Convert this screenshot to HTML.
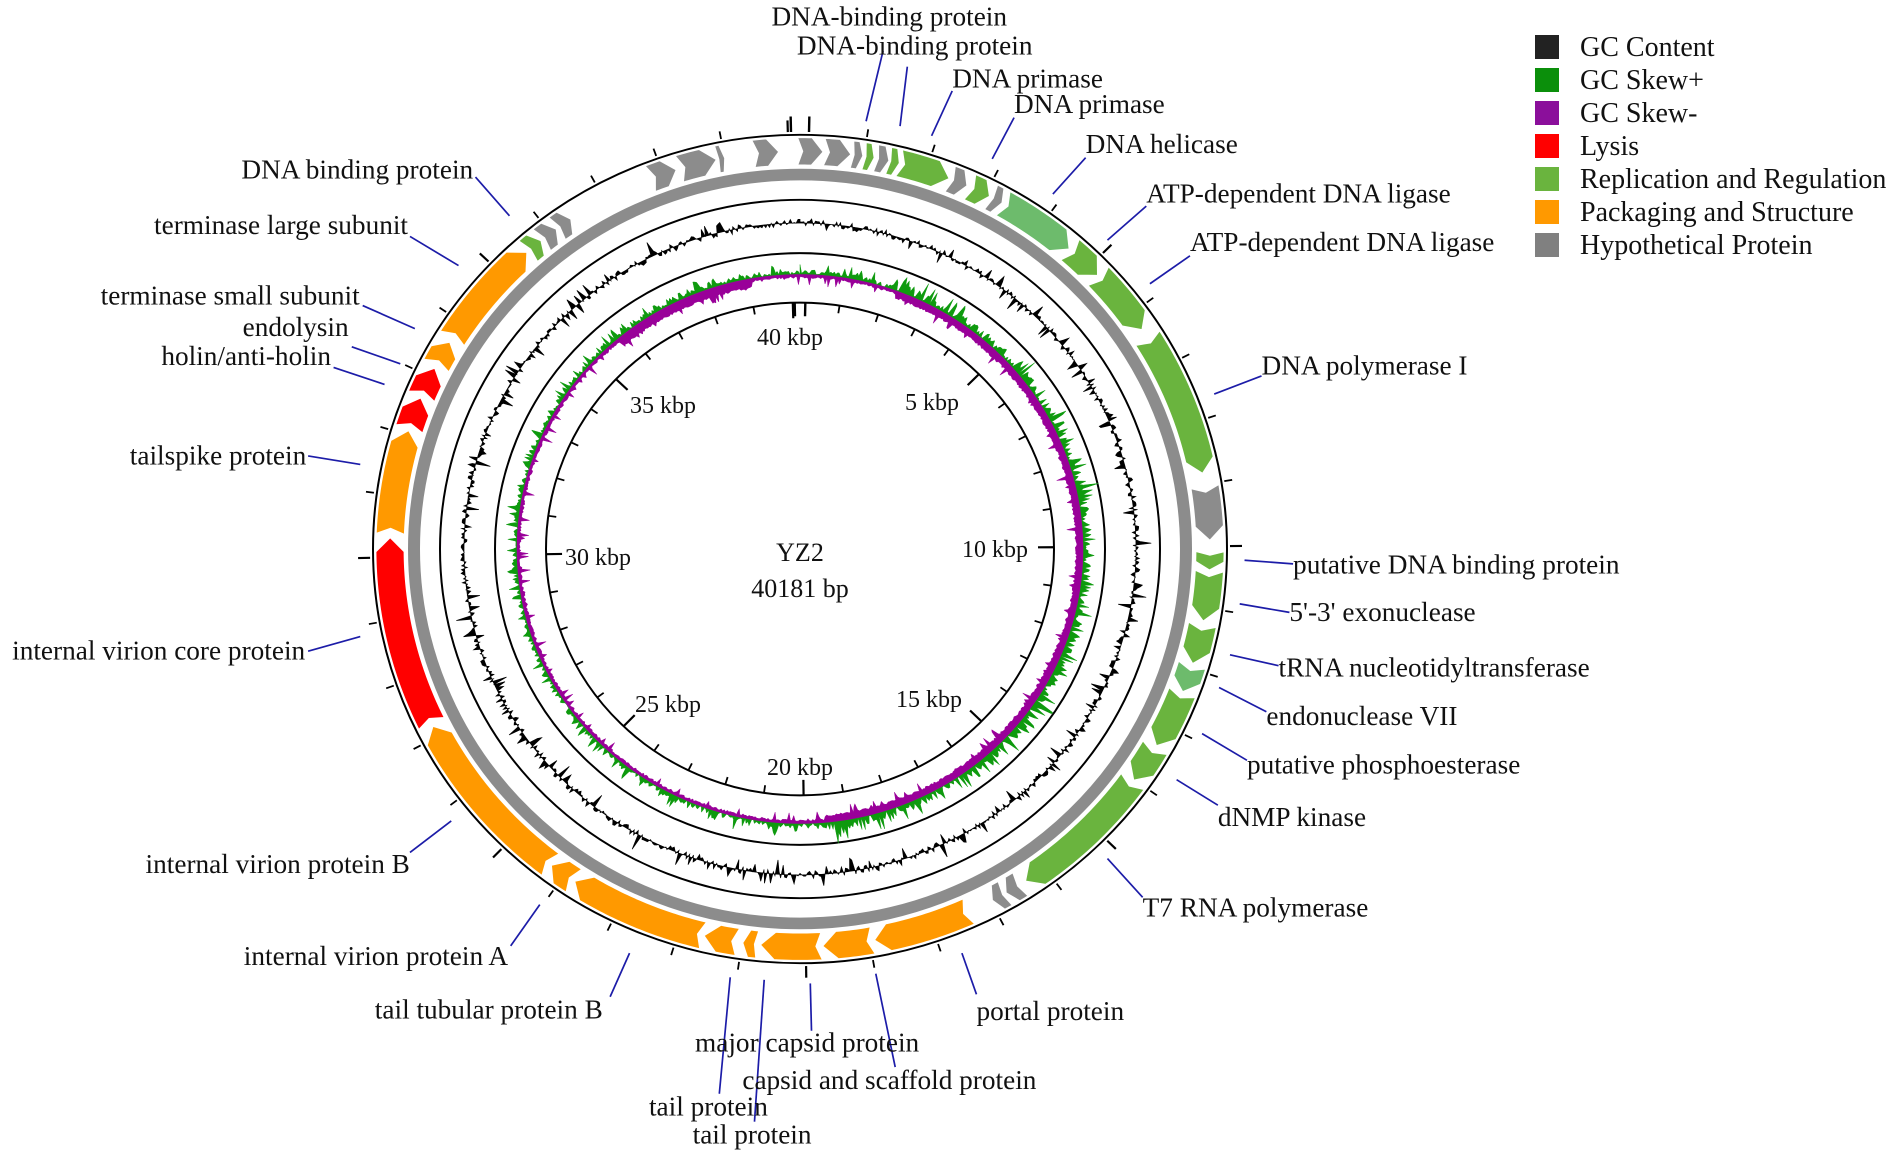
<!DOCTYPE html>
<html><head><meta charset="utf-8"><style>
html,body{margin:0;padding:0;background:#fff;width:1902px;height:1158px;overflow:hidden}
svg{display:block}
text{font-family:"Liberation Serif",serif;fill:#111}
</style></head><body>
<svg id="s" width="1902" height="1158" viewBox="0 0 1902 1158" xmlns="http://www.w3.org/2000/svg">
<g id="ring" transform="translate(800,549) scale(1,0.97)"></g>
<g font-size="24" text-anchor="middle">
<text x="790" y="345">40 kbp</text>
<text x="932" y="410">5 kbp</text>
<text x="663" y="413">35 kbp</text>
<text x="995" y="557">10 kbp</text>
<text x="598" y="565">30 kbp</text>
<text x="929" y="707">15 kbp</text>
<text x="668" y="712">25 kbp</text>
<text x="800" y="775">20 kbp</text>
<text x="800" y="561" font-size="26">YZ2</text>
<text x="800" y="597" font-size="26">40181 bp</text>
</g>
<g id="legend" font-size="28">
<rect x="1535" y="35" width="24" height="24" fill="#222"/><text x="1580" y="56">GC Content</text>
<rect x="1535" y="68" width="24" height="24" fill="#0b8f0b"/><text x="1580" y="89">GC Skew+</text>
<rect x="1535" y="101" width="24" height="24" fill="#8b0f9b"/><text x="1580" y="122">GC Skew-</text>
<rect x="1535" y="134" width="24" height="24" fill="#ff0000"/><text x="1580" y="155">Lysis</text>
<rect x="1535" y="167" width="24" height="24" fill="#6ab43e"/><text x="1580" y="188">Replication and Regulation</text>
<rect x="1535" y="200" width="24" height="24" fill="#ff9900"/><text x="1580" y="221">Packaging and Structure</text>
<rect x="1535" y="233" width="24" height="24" fill="#808080"/><text x="1580" y="254">Hypothetical Protein</text>
</g>
<g transform="scale(1.2130,1.2126)" font-size="22.5">
<g stroke="#1c1ca8" stroke-width="1.4" fill="none">
<line x1="728" y1="42" x2="714" y2="100"/>
<line x1="748" y1="55" x2="742" y2="104"/>
<line x1="785" y1="75" x2="768" y2="112"/>
<line x1="836" y1="97" x2="818" y2="131"/>
<line x1="895" y1="130" x2="868" y2="160"/>
<line x1="945" y1="170" x2="913" y2="198"/>
<line x1="981" y1="211" x2="948" y2="234"/>
<line x1="1040" y1="310" x2="1001" y2="325"/>
<line x1="1066" y1="465" x2="1026" y2="462"/>
<line x1="1063" y1="505" x2="1022" y2="498"/>
<line x1="1054" y1="549" x2="1014" y2="540"/>
<line x1="1044" y1="587" x2="1005" y2="567"/>
<line x1="1028" y1="627" x2="991" y2="605"/>
<line x1="1004" y1="664" x2="970" y2="643"/>
<line x1="942" y1="740" x2="913" y2="708"/>
<line x1="805" y1="820" x2="793" y2="786"/>
<line x1="738" y1="880" x2="722" y2="803"/>
<line x1="669" y1="850" x2="668" y2="811"/>
<line x1="593" y1="902" x2="602" y2="806"/>
<line x1="622" y1="925" x2="630" y2="808"/>
<line x1="503" y1="822" x2="519" y2="786"/>
<line x1="421" y1="780" x2="445" y2="746"/>
<line x1="338" y1="703" x2="372" y2="677"/>
<line x1="254" y1="537" x2="297" y2="525"/>
<line x1="254" y1="376" x2="297" y2="383"/>
<line x1="275" y1="303" x2="317" y2="317"/>
<line x1="290" y1="286" x2="330" y2="300"/>
<line x1="299" y1="252" x2="342" y2="271"/>
<line x1="338" y1="195" x2="378" y2="219"/>
<line x1="392" y1="146" x2="420" y2="178"/>
</g>
<text x="636" y="21">DNA-binding protein</text>
<text x="657" y="45">DNA-binding protein</text>
<text x="785" y="72">DNA primase</text>
<text x="836" y="93">DNA primase</text>
<text x="895" y="126">DNA helicase</text>
<text x="945" y="167">ATP-dependent DNA ligase</text>
<text x="981" y="207">ATP-dependent DNA ligase</text>
<text x="1040" y="309">DNA polymerase I</text>
<text x="1066" y="473">putative DNA binding protein</text>
<text x="1063" y="512">5'-3' exonuclease</text>
<text x="1054" y="558">tRNA nucleotidyltransferase</text>
<text x="1044" y="598">endonuclease VII</text>
<text x="1028" y="638">putative phosphoesterase</text>
<text x="1004" y="681">dNMP kinase</text>
<text x="942" y="756">T7 RNA polymerase</text>
<text x="805" y="841">portal protein</text>
<text x="612" y="898">capsid and scaffold protein</text>
<text x="573" y="867">major capsid protein</text>
<text x="535" y="920">tail protein</text>
<text x="571" y="943">tail protein</text>
<text x="309" y="840">tail tubular protein B</text>
<text x="201" y="796">internal virion protein A</text>
<text x="120" y="720">internal virion protein B</text>
<text x="10" y="544">internal virion core protein</text>
<text x="107" y="383">tailspike protein</text>
<text x="133" y="301">holin/anti-holin</text>
<text x="200" y="277">endolysin</text>
<text x="83" y="251">terminase small subunit</text>
<text x="127" y="193">terminase large subunit</text>
<text x="199" y="147">DNA binding protein</text>
</g>
</svg>
<script>
(function(){
var NS="http://www.w3.org/2000/svg",g=document.getElementById("ring");
function el(t,a){var e=document.createElementNS(NS,t);for(var k in a)e.setAttribute(k,a[k]);g.appendChild(e);return e;}
function P(r,a){var d=a*Math.PI/180;return (r*Math.sin(d)).toFixed(2)+","+(-r*Math.cos(d)).toFixed(2);}
function line(r1,r2,a,w){var p1=P(r1,a).split(","),p2=P(r2,a).split(",");el("line",{x1:p1[0],y1:p1[1],x2:p2[0],y2:p2[1],stroke:"#000","stroke-width":w});}
var seed=12345;function rnd(){seed=(seed*1103515245+12345)%2147483648;return seed/2147483648;}
el("circle",{cx:0,cy:0,r:386,fill:"none",stroke:"#8c8c8c","stroke-width":12});
[427,360,305,254].forEach(function(r){el("circle",{cx:0,cy:0,r:r,fill:"none",stroke:"#000","stroke-width":2});});
var G="#8c8c8c",L="#6ab43e",Pa="#6dbb6c",O="#ff9900",R="#ff0000";
var genes=[[-21.4,-17.6,G],[-17.1,-11.8,G],[-11.6,-10.6,G],[-6.5,-3,G],[-0.3,3.2,G],[3.4,7.1,G],[7.3,8.8,G],
[9,10.4,L],[10.7,12.5,G],[12.5,14,L],[14,21.3,L],[21.5,24,G],[24.5,27.5,L],[27.8,29.5,G],[29.7,41,Pa],[41.2,46.5,L],[46.7,56.5,L],[58,79,L],[81,88.7,G],
[90.4,93,L],[93.2,100.4,L],[101,106.7,L],[107,111,Pa],[111.2,119.6,L],[120,125.5,L],[125.8,146.6,L],[147.5,149.8,G],[150,152,G],
[155.7,169.5,O],[169.8,176.8,O],[177,185.5,O],[186,188,O],[188.8,193.5,O],[193.7,213.3,O],[213.5,217.3,O],[217.5,243.5,O],
[244,271.6,R],[272.2,287.3,O],[287.6,292.3,R],[292.6,297,R],[297.5,301.3,O],[302,318.2,O],[318.5,320.8,L],[321,323.5,G],[323.7,326,G]];
var ri=396,ro=424,rm=410;
genes.forEach(function(q){var a1=q[0],a2=q[1],len=a2-a1,tip=Math.min(2.0,len*0.45),nt=Math.min(0.8,len*0.2);
var pts=[],a,e=a2-tip;
for(a=a1;a<e;a+=0.5)pts.push(P(ro,a));pts.push(P(ro,e));pts.push(P(rm,a2));
for(a=e;a>a1;a-=0.5)pts.push(P(ri,a));pts.push(P(ri,a1));pts.push(P(rm,a1+nt));pts.push(P(ro,a1));
el("polygon",{points:pts.join(" "),fill:q[2],stroke:"#fff","stroke-width":0.8});});
var step=360*1000/40181;
for(var i=1;i<=40;i++){var a=i*step,maj=i%5==0;
line(430,maj?442:438,a,maj?2.2:1.8);
line(254,maj?238:246,a,maj?2.2:1.8);}
[-1.2,1.2].forEach(function(a){line(430,446,a,2.4);line(254,240,a,2.4);});
var N=1100,pts=[],base=[],sb=[];
for(i=0;i<=N;i++){var a=i*360/N,v=(rnd()-0.5)*8;if(rnd()<0.2)v+=(rnd()-0.5)*26;
pts.push(P(336+v,a));}
for(i=N;i>=0;i--){base.push(P(336,i*360/N));sb.push(P(283,i*360/N));}
el("polygon",{points:pts.concat(base).join(" "),fill:"#000",stroke:"#000","stroke-width":0.7});
var gp=[],pp=[];
for(i=0;i<=N;i++){var a=i*360/N;
var strong=(a>20&&a<175);
var gv=rnd()*(strong?9:5);if(rnd()<0.25)gv+=rnd()*(strong?14:9);
var pv=2+rnd()*2+(strong?4:0)+((a>320&&a<350)?6:0);if(rnd()<0.12)pv+=rnd()*9;
gp.push(P(283+gv,a));pp.push(P(283-pv,a));}
el("polygon",{points:gp.concat(sb).join(" "),fill:"#0e9a0e",stroke:"#0e9a0e","stroke-width":0.5});
el("polygon",{points:pp.concat(sb).join(" "),fill:"#990099",stroke:"#990099","stroke-width":0.5});
})();
</script>
</body></html>
